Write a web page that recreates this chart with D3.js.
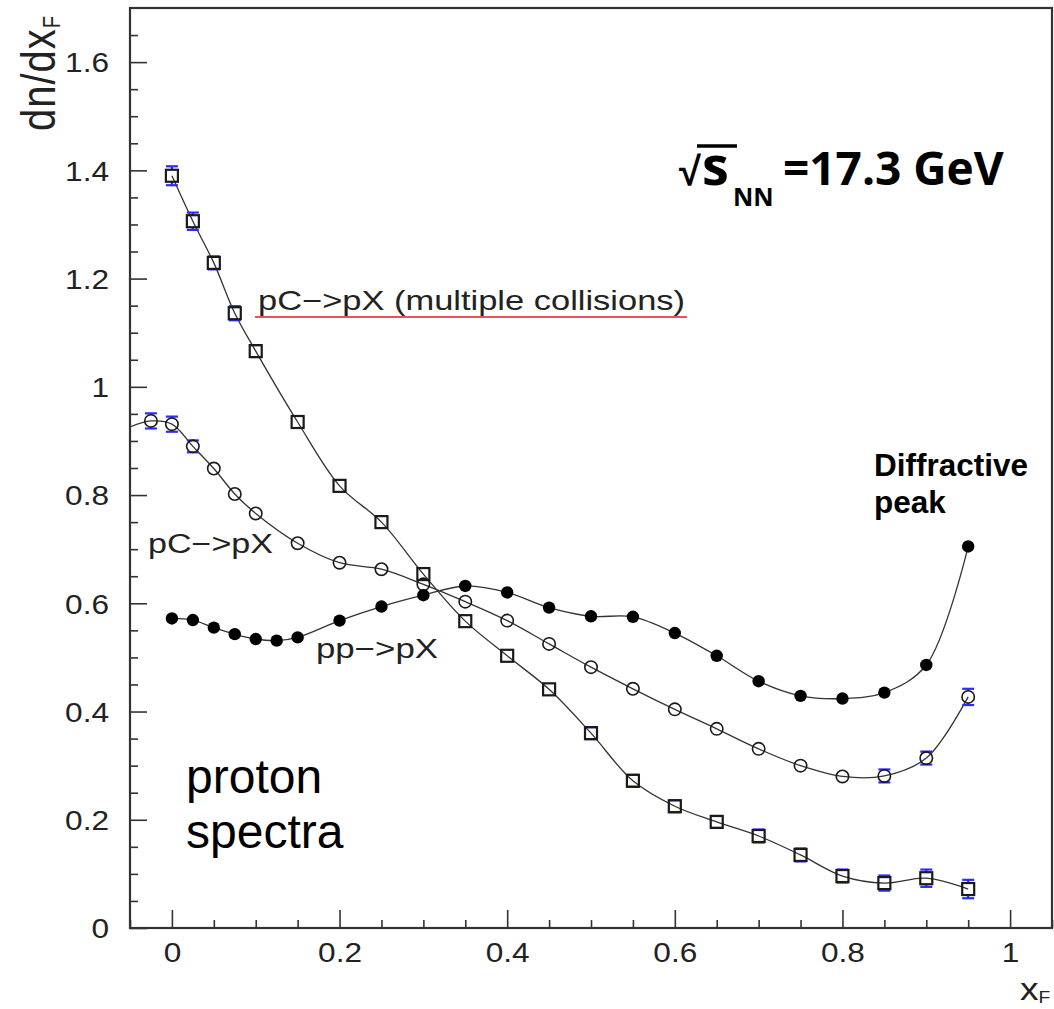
<!DOCTYPE html>
<html><head><meta charset="utf-8">
<script src="https://cdn.jsdelivr.net/npm/d3@7"></script>
<style>html,body{margin:0;padding:0;background:#fff}</style>
</head><body>
<svg id="chart" width="1054" height="1009"></svg>
<script>
// pC -> pX, multiple collisions (open squares)
const multiX = [0, 0.025, 0.05, 0.075, 0.1, 0.15, 0.2, 0.25, 0.3, 0.35, 0.4, 0.45, 0.5, 0.55, 0.6, 0.65, 0.7, 0.75, 0.8, 0.85, 0.9, 0.95];
const multiY = [1.39, 1.306, 1.229, 1.136, 1.066, 0.935, 0.817, 0.750, 0.654, 0.567, 0.503, 0.441, 0.360, 0.272, 0.225, 0.196, 0.170, 0.135, 0.096, 0.083, 0.092, 0.072];
const multiErr = [0.0175, 0.016, 0.012, 0.013, 0.011, 0.008, 0.008, 0.008, 0.008, 0.008, 0.008, 0.008, 0.011, 0.011, 0.011, 0.011, 0.012, 0.012, 0.012, 0.014, 0.016, 0.017];

// pC -> pX (open circles); the fitted curve starts at the left frame edge
const pcX = [-0.025, 0, 0.025, 0.05, 0.075, 0.1, 0.15, 0.2, 0.25, 0.3, 0.35, 0.4, 0.45, 0.5, 0.55, 0.6, 0.65, 0.7, 0.75, 0.8, 0.85, 0.9, 0.95];
const pcY = [0.937, 0.931, 0.890, 0.849, 0.802, 0.766, 0.711, 0.675, 0.663, 0.635, 0.603, 0.568, 0.525, 0.482, 0.442, 0.404, 0.368, 0.331, 0.300, 0.280, 0.281, 0.314, 0.427];
const pcErr = [0.014, 0.014, 0.011, 0.006, 0.006, 0.006, 0.006, 0.006, 0.006, 0.006, 0.006, 0.006, 0.006, 0.006, 0.006, 0.006, 0.006, 0.006, 0.006, 0.006, 0.012, 0.012, 0.015];
const pcCurveLead = [-0.05, 0.926];

// pp -> pX (filled circles)
const ppX = [0, 0.025, 0.05, 0.075, 0.1, 0.125, 0.15, 0.2, 0.25, 0.3, 0.35, 0.4, 0.45, 0.5, 0.55, 0.6, 0.65, 0.7, 0.75, 0.8, 0.85, 0.9, 0.95];
const ppY = [0.572, 0.569, 0.555, 0.543, 0.534, 0.531, 0.537, 0.568, 0.594, 0.615, 0.632, 0.620, 0.592, 0.576, 0.575, 0.545, 0.503, 0.456, 0.429, 0.424, 0.435, 0.486, 0.705];
const ppErr = [0.005, 0.005, 0.005, 0.005, 0.005, 0.005, 0.005, 0.005, 0.005, 0.005, 0.005, 0.005, 0.005, 0.005, 0.005, 0.005, 0.005, 0.005, 0.005, 0.005, 0.005, 0.005, 0.005];

// axis ticks
const xMajor = [0, 0.2, 0.4, 0.6, 0.8, 1];
const xMajorLabels = ["0", "0.2", "0.4", "0.6", "0.8", "1"];
const xMinor = [-0.05, 0.05, 0.1, 0.15, 0.25, 0.3, 0.35, 0.45, 0.5, 0.55, 0.65, 0.7, 0.75, 0.85, 0.9, 0.95, 1.05];
const yMajor = [0, 0.2, 0.4, 0.6, 0.8, 1, 1.2, 1.4, 1.6];
const yMajorLabels = ["0", "0.2", "0.4", "0.6", "0.8", "1", "1.2", "1.4", "1.6"];
const yMinor = [0.05, 0.1, 0.15, 0.25, 0.3, 0.35, 0.45, 0.5, 0.55, 0.65, 0.7, 0.75, 0.85, 0.9, 0.95, 1.05, 1.1, 1.15, 1.25, 1.3, 1.35, 1.45, 1.5, 1.55, 1.65];

const svg = d3.select("#chart");
const L = 130, R = 1052, T = 8, B = 928;
const x = d3.scaleLinear().domain([-0.05, 1.05]).range([L, R]);
const y = d3.scaleLinear().domain([0, 1.7]).range([B, T]);

const axisFont = "'Liberation Sans', Arial, sans-serif";
const ink = "#222";

// widen glyphs horizontally to a given factor of their natural width
function widen(sel, factor) {
  sel.each(function () {
    const w = this.getComputedTextLength();
    d3.select(this).attr("textLength", w * factor).attr("lengthAdjust", "spacingAndGlyphs");
  });
}

svg.append("defs").append("clipPath").attr("id", "plotArea")
  .append("rect").attr("x", L).attr("y", T).attr("width", R - L).attr("height", B - T);

// ticks
const gx = svg.append("g").attr("transform", `translate(0,${B})`);
gx.call(d3.axisBottom(x).tickValues(xMinor).tickSize(-8).tickFormat(""));
gx.select(".domain").remove();
const gxM = svg.append("g").attr("transform", `translate(0,${B})`);
gxM.call(d3.axisBottom(x).tickValues(xMajor).tickSize(-18).tickPadding(0)
  .tickFormat((d, i) => xMajorLabels[i]));
gxM.select(".domain").remove();
gxM.selectAll("text").attr("y", 34).attr("dy", 0)
  .attr("font-size", 27).attr("font-family", axisFont).attr("fill", ink);
widen(gxM.selectAll("text"), 1.17);

const gy = svg.append("g").attr("transform", `translate(${L},0)`);
gy.call(d3.axisLeft(y).tickValues(yMinor).tickSize(-8).tickFormat(""));
gy.select(".domain").remove();
const gyM = svg.append("g").attr("transform", `translate(${L},0)`);
gyM.call(d3.axisLeft(y).tickValues(yMajor).tickSize(-17).tickPadding(0)
  .tickFormat((d, i) => yMajorLabels[i]));
gyM.select(".domain").remove();
gyM.selectAll("text").attr("x", -21).attr("dy", "0.36em")
  .attr("font-size", 27).attr("font-family", axisFont).attr("fill", ink);
widen(gyM.selectAll("text"), 1.17);

svg.selectAll(".tick line").attr("stroke", "#333").attr("stroke-width", 1.6);

// frame
svg.append("rect").attr("x", L).attr("y", T).attr("width", R - L).attr("height", B - T)
  .attr("fill", "none").attr("stroke", "#333").attr("stroke-width", 2.2);

// fitted curves
const plot = svg.append("g").attr("clip-path", "url(#plotArea)");
const line = d3.line().x(d => x(d[0])).y(d => y(d[1])).curve(d3.curveCatmullRom.alpha(0.5));
const zip = (xs, ys) => xs.map((v, i) => [v, ys[i]]);
const curves = [
  zip(multiX, multiY),
  [pcCurveLead].concat(zip(pcX, pcY)),
  zip(ppX, ppY)
];
plot.selectAll("path.fit").data(curves).join("path").attr("class", "fit")
  .attr("d", line).attr("fill", "none").attr("stroke", "#333").attr("stroke-width", 1.3);

// error bars: drawn only outside the marker, with end caps
function errorBars(xs, ys, es, half, cap) {
  const g = plot.append("g").attr("stroke", "#2b2bff").attr("stroke-width", 2.2);
  xs.forEach((xv, i) => {
    const cx = x(xv), cy = y(ys[i]);
    const e = y(ys[i] - es[i]) - cy;
    if (e <= half - 1.6) return;
    if (e > half) {
      g.append("line").attr("x1", cx).attr("x2", cx).attr("y1", cy - e).attr("y2", cy - half);
      g.append("line").attr("x1", cx).attr("x2", cx).attr("y1", cy + half).attr("y2", cy + e);
    }
    g.append("line").attr("x1", cx - cap).attr("x2", cx + cap).attr("y1", cy - e).attr("y2", cy - e);
    g.append("line").attr("x1", cx - cap).attr("x2", cx + cap).attr("y1", cy + e).attr("y2", cy + e);
  });
}
errorBars(multiX, multiY, multiErr, 6, 6);
errorBars(pcX, pcY, pcErr, 6.2, 6);
errorBars(ppX, ppY, ppErr, 6.2, 5);

// markers
const sq = 12;
plot.append("g").selectAll("rect").data(zip(multiX, multiY)).join("rect")
  .attr("x", d => x(d[0]) - sq / 2).attr("y", d => y(d[1]) - sq / 2)
  .attr("width", sq).attr("height", sq)
  .attr("fill", "none").attr("stroke", "#1a1a1a").attr("stroke-width", 2.2);
plot.append("g").selectAll("circle").data(zip(pcX, pcY)).join("circle")
  .attr("cx", d => x(d[0])).attr("cy", d => y(d[1])).attr("r", 6.2)
  .attr("fill", "none").attr("stroke", "#1a1a1a").attr("stroke-width", 1.6);
plot.append("g").selectAll("circle").data(zip(ppX, ppY)).join("circle")
  .attr("cx", d => x(d[0])).attr("cy", d => y(d[1])).attr("r", 6.2)
  .attr("fill", "#000");

// axis titles
const yt = svg.append("text").attr("transform", "translate(55,15) scale(1.2,1) rotate(-90)")
  .attr("text-anchor", "end").attr("font-family", axisFont).attr("font-size", 40)
  .attr("letter-spacing", 1).attr("fill", ink);
yt.append("tspan").text("dn/dx");
yt.append("tspan").attr("font-size", 20).attr("dy", 4).text("F");

const xt = svg.append("text").attr("transform", "translate(1020,1000) scale(1.2,1)")
  .attr("font-family", axisFont).attr("font-size", 31).attr("fill", ink);
xt.append("tspan").text("x");
xt.append("tspan").attr("font-size", 16).attr("dy", 3).text("F");

// curve labels
svg.append("text").attr("x", 258).attr("y", 310).attr("textLength", 427).attr("lengthAdjust", "spacingAndGlyphs")
  .attr("font-family", axisFont).attr("font-size", 28).attr("fill", ink)
  .text("pC−>pX (multiple collisions)");
svg.append("line").attr("x1", 255).attr("x2", 687).attr("y1", 317).attr("y2", 317)
  .attr("stroke", "#e31a1a").attr("stroke-width", 1.6);
svg.append("text").attr("x", 148).attr("y", 553).attr("textLength", 125).attr("lengthAdjust", "spacingAndGlyphs")
  .attr("font-family", axisFont).attr("font-size", 27).attr("fill", ink).text("pC−>pX");
svg.append("text").attr("x", 316).attr("y", 658).attr("textLength", 122).attr("lengthAdjust", "spacingAndGlyphs")
  .attr("font-family", axisFont).attr("font-size", 27).attr("fill", ink).text("pp−>pX");

// annotations
const sans = "'Liberation Sans', Arial, sans-serif";
svg.append("text").attr("x", 186).attr("y", 793).attr("font-family", sans).attr("font-size", 48)
  .attr("fill", "#000").text("proton");
svg.append("text").attr("x", 186).attr("y", 848).attr("font-family", sans).attr("font-size", 48)
  .attr("fill", "#000").text("spectra");

svg.append("text").attr("x", 874).attr("y", 476).attr("font-family", sans).attr("font-size", 31.5)
  .attr("font-weight", "bold").attr("fill", "#000").text("Diffractive");
svg.append("text").attr("x", 874).attr("y", 513).attr("font-family", sans).attr("font-size", 31.5)
  .attr("font-weight", "bold").attr("fill", "#000").text("peak");

// sqrt(s_NN) = 17.3 GeV
const bold = "'Open Sans', 'Noto Sans', sans-serif";
svg.append("line").attr("x1", 697).attr("x2", 737).attr("y1", 146).attr("y2", 146)
  .attr("stroke", "#000").attr("stroke-width", 3.5);
const en = svg.append("text").attr("y", 185).attr("font-family", bold)
  .attr("font-weight", "bold").attr("fill", "#000");
en.append("tspan").attr("x", 679).attr("font-family", "'Liberation Sans', sans-serif")
  .attr("font-size", 40).text("√");
en.append("tspan").attr("x", 702).attr("font-size", 54).text("s");
en.append("tspan").attr("x", 733).attr("dy", 21).attr("font-size", 25).text("NN");
en.append("tspan").attr("x", 783).attr("dy", -21).attr("font-size", 46).text("=17.3 GeV");
</script></body></html>
